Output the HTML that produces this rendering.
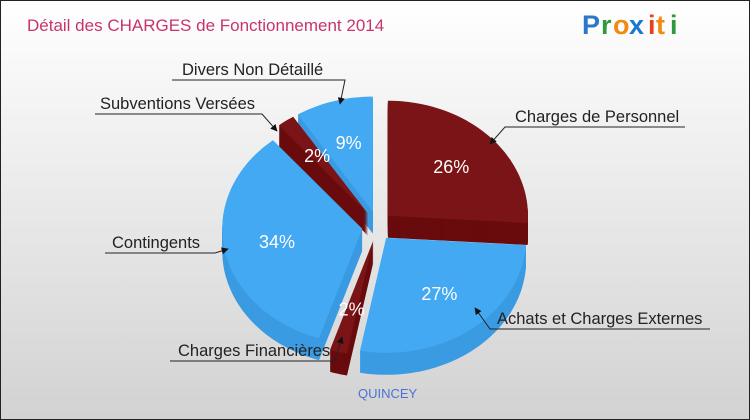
<!DOCTYPE html>
<html><head><meta charset="utf-8"><style>
body{margin:0}
#w{width:750px;height:420px;position:relative;overflow:hidden;font-family:"Liberation Sans",sans-serif;}
</style></head><body>
<div id="w">
<svg id="s" width="750" height="420" viewBox="0 0 750 420">
<defs><linearGradient id="bg" x1="0" y1="0" x2="0" y2="1"><stop offset="0" stop-color="#ffffff"/><stop offset="1" stop-color="#d2d2d2"/></linearGradient>
<marker id="ar" viewBox="0 0 10 10" refX="9" refY="5" markerWidth="7" markerHeight="7" orient="auto"><path d="M0,0 L10,5 L0,10 z" fill="#111"/></marker></defs>
<rect x="0.5" y="0.5" width="749" height="419" fill="url(#bg)" stroke="#222"/>
<text x="27" y="31" font-size="17" fill="#c8336e">Détail des CHARGES de Fonctionnement 2014</text>
<g font-size="27" font-weight="bold" font-family="'Liberation Sans',sans-serif">
<text x="582" y="34" fill="#2a78c8">P</text><text x="601" y="34" fill="#2e9a3c">r</text><text x="613" y="34" fill="#f08a10">o</text><text x="629" y="34" fill="#1a78d0">x</text><text x="648" y="34" fill="#e8401c">i</text><text x="656" y="34" fill="#f08a10">t</text><text x="670" y="34" fill="#2e9a3c">i</text></g>
<g id="pie"></g>
<g id="lbl" font-size="16.5" fill="#222"></g>
<text x="358" y="398" font-size="13" fill="#4a72d8">QUINCEY</text>
</svg>
</div>
<script>
const categories=["Charges de Personnel","Achats et Charges Externes","Charges Financières","Contingents","Subventions Versées","Divers Non Détaillé"];
const values=[26,27,2,34,2,9];
const colorsTop=["#7b1416","#42a9f2","#7b1416","#42a9f2","#7b1416","#42a9f2"];
const colorsSide=["#690b0d","#3a9be2","#690b0d","#3a9be2","#690b0d","#3a9be2"];
const labelPos=[[515,122,505,685,490,144],[497,324,490,710,475,308],[178,356,170,335,342,337],[112,248,105,215,228,249],[100,109,95,262,277,131],[182,75,172,345,340,104]];
const cx=377,cy=226,rx=140,ry=115,depth=22,ex=15;
const NS="http://www.w3.org/2000/svg";
const pie=document.getElementById('pie'),lbl=document.getElementById('lbl');
const total=values.reduce((a,b)=>a+b,0);
function pt(a,r,ox,oy,dy){return [ox+rx*r*Math.sin(a),oy-ry*r*Math.cos(a)+dy];}
let acc=0;const slices=[];
values.forEach((v,i)=>{const a0=acc/total*2*Math.PI;acc+=v;const a1=acc/total*2*Math.PI;const m=(a0+a1)/2;
 const ox=cx+ex*Math.sin(m),oy=cy-ex*Math.cos(m);slices.push({i,a0,a1,m,ox,oy});});
function path(s,dy){const n=Math.max(2,Math.ceil((s.a1-s.a0)*40));let d=`M${s.ox},${s.oy+dy}`;
 for(let k=0;k<=n;k++){const a=s.a0+(s.a1-s.a0)*k/n;const p=pt(a,1,s.ox,s.oy,dy);d+=`L${p[0].toFixed(1)},${p[1].toFixed(1)}`;}return d+'Z';}
const order=slices.slice().sort((a,b)=>Math.cos(b.m)-Math.cos(a.m));
order.forEach(s=>{const g=document.createElementNS(NS,'g');
 
 
 for(let dy=depth;dy>=1;dy-=1){const p=document.createElementNS(NS,'path');p.setAttribute('d',path(s,dy));p.setAttribute('fill',colorsSide[s.i]);g.appendChild(p);}
 pie.appendChild(g);
 const t=document.createElementNS(NS,'path');t.setAttribute('d',path(s,0));t.setAttribute('fill',colorsTop[s.i]);
 
 
 pie.appendChild(t);});
slices.forEach(s=>{const p=pt(s.m,0.62,s.ox,s.oy,0);const t=document.createElementNS(NS,'text');
 t.setAttribute('x',p[0]);t.setAttribute('y',p[1]+6);t.setAttribute('text-anchor','middle');t.setAttribute('font-size','18');t.setAttribute('fill','#fff');
 t.textContent=values[s.i]+'%';
 
 
 pie.appendChild(t);
 const L=labelPos[s.i];const tx=document.createElementNS(NS,'text');tx.setAttribute('x',L[0]);tx.setAttribute('y',L[1]);tx.textContent=categories[s.i];
 
 
 lbl.appendChild(tx);
 const right=L[0]>400;const ly=L[1]+5;
 const ln=document.createElementNS(NS,'polyline');
 const pts=right?`${L[3]},${ly} ${L[2]},${ly} ${L[4]},${L[5]}`:`${L[2]},${ly} ${L[3]},${ly} ${L[4]},${L[5]}`;
 ln.setAttribute('points',pts);ln.setAttribute('fill','none');ln.setAttribute('stroke','#222');ln.setAttribute('stroke-width','1');ln.setAttribute('marker-end','url(#ar)');
 
 
 lbl.appendChild(ln);});
</script>
</body></html>
